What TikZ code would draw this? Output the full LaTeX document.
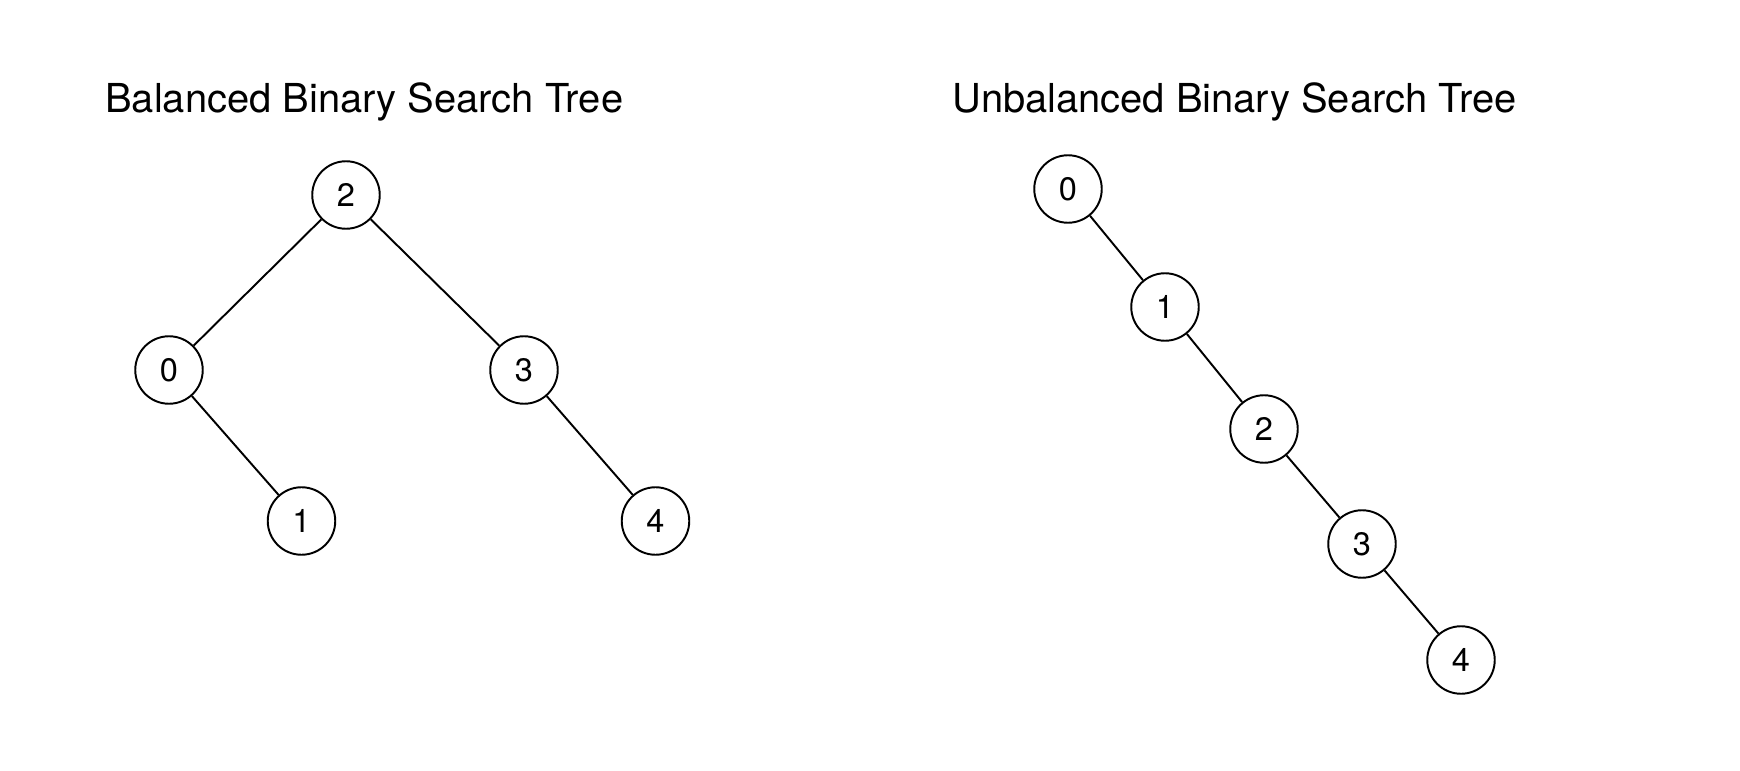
\documentclass[tikz,border=0pt]{standalone}
\usepackage{fontspec}
\setmainfont{TeX Gyre Heros}
\usepackage{tikz}
\usetikzlibrary{positioning}

\begin{document}
\begin{tikzpicture}[
  treenode/.style={circle, draw=black, line width=1.1pt, minimum size=1.35cm, inner sep=0pt, font=\fontsize{18.5}{18.5}\selectfont},
  edge/.style={line width=1.1pt, draw=black},
  heading/.style={anchor=base west, inner sep=0pt, font=\fontsize{22.7}{24}\selectfont},
]
\useasboundingbox (0,0) rectangle (34.8,15.4);

% --- Balanced tree ---
\node[heading] (balTitle) at (2.10, 13.14) {Balanced Binary Search Tree};
\node[treenode] (b2) at (6.92, 11.50) {2};
\node[treenode] (b0) at (3.38, 8.00) {0};
\node[treenode] (b3) at (10.48, 8.00) {3};
\node[treenode] (b1) at (6.03, 4.98) {1};
\node[treenode] (b4) at (13.11, 4.98) {4};
\draw[edge] (b2) -- (b0);
\draw[edge] (b2) -- (b3);
\draw[edge] (b0) -- (b1);
\draw[edge] (b3) -- (b4);

% --- Unbalanced tree ---
\node[heading] (unbalTitle) at (19.04, 13.14) {Unbalanced Binary Search Tree};
\node[treenode] (u0) at (21.36, 11.62) {0};
\node[treenode] (u1) at (23.30, 9.26) {1};
\node[treenode] (u2) at (25.28, 6.82) {2};
\node[treenode] (u3) at (27.24, 4.52) {3};
\node[treenode] (u4) at (29.22, 2.20) {4};
\foreach \a/\b in {u0/u1, u1/u2, u2/u3, u3/u4} {
  \draw[edge] (\a) -- (\b);
}

\end{tikzpicture}
\end{document}
